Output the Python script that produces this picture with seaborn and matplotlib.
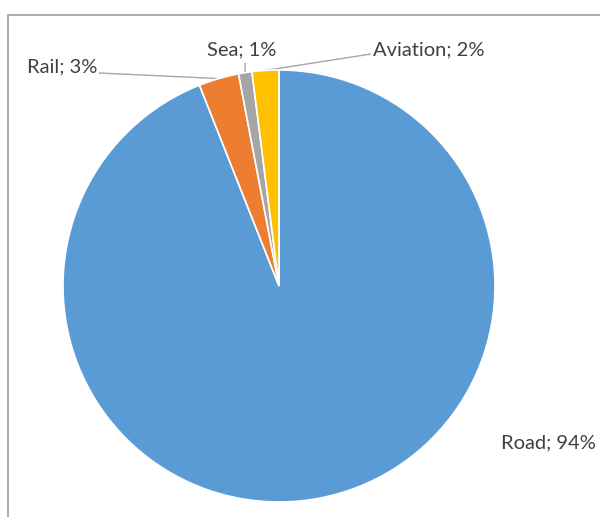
import matplotlib
matplotlib.use("Agg")
import matplotlib.pyplot as plt
from matplotlib.patches import Rectangle
import numpy as np
import seaborn as sns

# ---- data ----
categories = ["Road", "Rail", "Sea", "Aviation"]
values = [94, 3, 1, 2]

# ---- style ----
sns.set_theme(style="white")
plt.rcParams["font.family"] = ["Lato", "DejaVu Sans"]
colors = ["#5B9BD5", "#ED7D31", "#A5A5A5", "#FFC000"]
text_color = "#404040"
leader_color = "#A6A6A6"

W, H = 600, 517
fig = plt.figure(figsize=(W / 100, H / 100), dpi=100)
ax = fig.add_axes([0, 0, 1, 1])
ax.set_xlim(0, W)
ax.set_ylim(0, H)
ax.set_aspect("equal")
ax.axis("off")

# chart area border (cut off at right/bottom)
fig.patches.append(Rectangle((8 / W, -0.1), 1.2, (H - 15) / H + 0.1,
                             transform=fig.transFigure, fill=False,
                             edgecolor="#A6A6A6", linewidth=1.3))

cx, cy, r = 279, H - 286, 216
wedges, _ = ax.pie(values, colors=colors, startangle=90, counterclock=False,
                   center=(cx, cy), radius=r,
                   wedgeprops=dict(edgecolor="white", linewidth=1.2),
                   frame=True)
ax.set_xlim(0, W)
ax.set_ylim(0, H)
ax.axis("off")

# label layout (pixel coords from top-left): text anchor, ha, leader start
label_layout = {
    "Road": dict(xy=(501, 443), ha="left", lead=None),
    "Rail": dict(xy=(97, 67), ha="right", lead=(99, 73)),
    "Sea": dict(xy=(242, 50), ha="center", lead=(245, 63)),
    "Aviation": dict(xy=(373, 50), ha="left", lead=(371, 54)),
}

for w, cat, val in zip(wedges, categories, values):
    lay = label_layout[cat]
    tx, ty = lay["xy"]
    ax.text(tx, H - ty, f"{cat}; {val}%", ha=lay["ha"], va="center",
            fontsize=14.5, color=text_color)
    if lay["lead"] is not None:
        mid = np.deg2rad((w.theta1 + w.theta2) / 2)
        ex, ey = cx + r * np.cos(mid), cy + r * np.sin(mid)
        lx, ly = lay["lead"]
        ax.plot([lx, ex], [H - ly, ey], color=leader_color, linewidth=1.0,
                solid_capstyle="butt", zorder=0.5)

fig.savefig("out.png", dpi=100)
